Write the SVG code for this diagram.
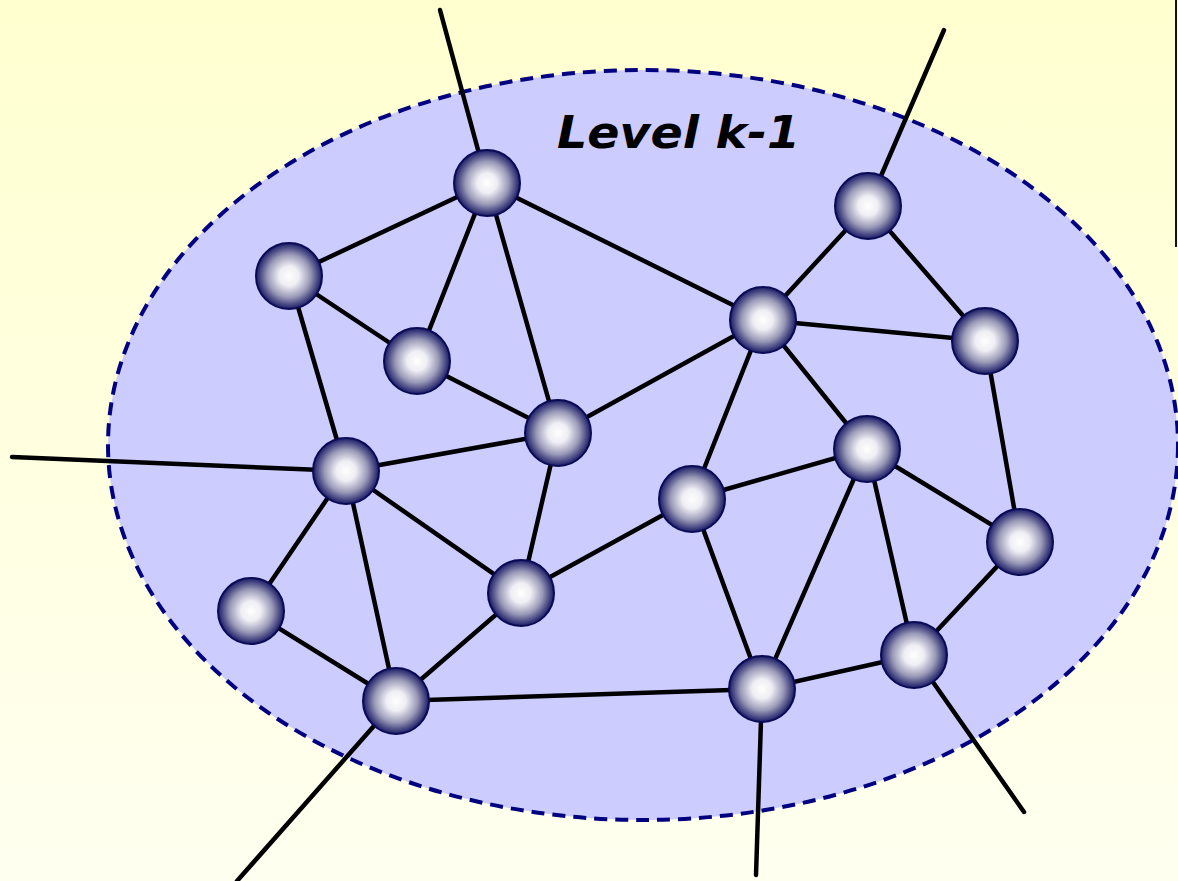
<svg xmlns="http://www.w3.org/2000/svg" width="1178" height="881" viewBox="0 0 1178 881">
<defs>
<linearGradient id="bg" x1="0" y1="0" x2="0" y2="1">
<stop offset="0" stop-color="#FFFFD0"/>
<stop offset="1" stop-color="#FFFFF0"/>
</linearGradient>
<radialGradient id="ball" cx="0.5" cy="0.5" r="0.5">
<stop offset="0" stop-color="#FFFFFF"/>
<stop offset="0.3" stop-color="#EEEEF4"/>
<stop offset="0.65" stop-color="#9A9AB8"/>
<stop offset="1" stop-color="#1A1A66"/>
</radialGradient>
<style>
.e{stroke:#000;stroke-width:4.5;fill:none;stroke-linecap:round}
.n{fill:url(#ball);stroke:#0A0A55;stroke-width:2}
.t{font-family:"DejaVu Sans",sans-serif;font-weight:bold;font-style:italic;font-size:44px;fill:#000}
</style>
</defs>
<rect x="0" y="0" width="1178" height="881" fill="url(#bg)"/>
<line x1="1176" y1="0" x2="1176" y2="247" stroke="#111" stroke-width="2"/>
<ellipse id="region" cx="643" cy="445" rx="535" ry="375" fill="#CCCCFF" stroke="#000080" stroke-width="4" stroke-dasharray="13 8"/>
<text id="label" class="t" x="557" y="148" textLength="243" lengthAdjust="spacingAndGlyphs">Level k-1</text>
<g id="connectors">
<line class="e" x1="440" y1="10" x2="487" y2="183"/>
<line class="e" x1="944" y1="30" x2="868" y2="206"/>
<line class="e" x1="12" y1="457" x2="346" y2="471"/>
<line class="e" x1="396" y1="701" x2="237" y2="881"/>
<line class="e" x1="762" y1="689" x2="756" y2="875"/>
<line class="e" x1="914" y1="655" x2="1024" y2="812"/>
<line class="e" x1="487" y1="183" x2="289" y2="276"/>
<line class="e" x1="487" y1="183" x2="417" y2="361"/>
<line class="e" x1="487" y1="183" x2="558" y2="433"/>
<line class="e" x1="487" y1="183" x2="763" y2="320"/>
<line class="e" x1="289" y1="276" x2="417" y2="361"/>
<line class="e" x1="289" y1="276" x2="346" y2="471"/>
<line class="e" x1="417" y1="361" x2="558" y2="433"/>
<line class="e" x1="558" y1="433" x2="346" y2="471"/>
<line class="e" x1="558" y1="433" x2="521" y2="593"/>
<line class="e" x1="868" y1="206" x2="763" y2="320"/>
<line class="e" x1="868" y1="206" x2="985" y2="341"/>
<line class="e" x1="763" y1="320" x2="985" y2="341"/>
<line class="e" x1="763" y1="320" x2="558" y2="433"/>
<line class="e" x1="763" y1="320" x2="692" y2="499"/>
<line class="e" x1="763" y1="320" x2="867" y2="449"/>
<line class="e" x1="985" y1="341" x2="1020" y2="542"/>
<line class="e" x1="867" y1="449" x2="692" y2="499"/>
<line class="e" x1="867" y1="449" x2="1020" y2="542"/>
<line class="e" x1="867" y1="449" x2="762" y2="689"/>
<line class="e" x1="867" y1="449" x2="914" y2="655"/>
<line class="e" x1="346" y1="471" x2="251" y2="611"/>
<line class="e" x1="346" y1="471" x2="396" y2="701"/>
<line class="e" x1="346" y1="471" x2="521" y2="593"/>
<line class="e" x1="692" y1="499" x2="521" y2="593"/>
<line class="e" x1="692" y1="499" x2="762" y2="689"/>
<line class="e" x1="1020" y1="542" x2="914" y2="655"/>
<line class="e" x1="914" y1="655" x2="762" y2="689"/>
<line class="e" x1="762" y1="689" x2="396" y2="701"/>
<line class="e" x1="251" y1="611" x2="396" y2="701"/>
<line class="e" x1="521" y1="593" x2="396" y2="701"/>
</g>
<g id="n1"><circle class="n" cx="487" cy="183" r="33"/></g>
<g id="n2"><circle class="n" cx="868" cy="206" r="33"/></g>
<g id="n3"><circle class="n" cx="289" cy="276" r="33"/></g>
<g id="n4"><circle class="n" cx="763" cy="320" r="33"/></g>
<g id="n5"><circle class="n" cx="985" cy="341" r="33"/></g>
<g id="n6"><circle class="n" cx="417" cy="361" r="33"/></g>
<g id="n7"><circle class="n" cx="558" cy="433" r="33"/></g>
<g id="n8"><circle class="n" cx="867" cy="449" r="33"/></g>
<g id="n9"><circle class="n" cx="346" cy="471" r="33"/></g>
<g id="n10"><circle class="n" cx="692" cy="499" r="33"/></g>
<g id="n11"><circle class="n" cx="1020" cy="542" r="33"/></g>
<g id="n12"><circle class="n" cx="521" cy="593" r="33"/></g>
<g id="n13"><circle class="n" cx="251" cy="611" r="33"/></g>
<g id="n14"><circle class="n" cx="914" cy="655" r="33"/></g>
<g id="n15"><circle class="n" cx="762" cy="689" r="33"/></g>
<g id="n16"><circle class="n" cx="396" cy="701" r="33"/></g>
</svg>
